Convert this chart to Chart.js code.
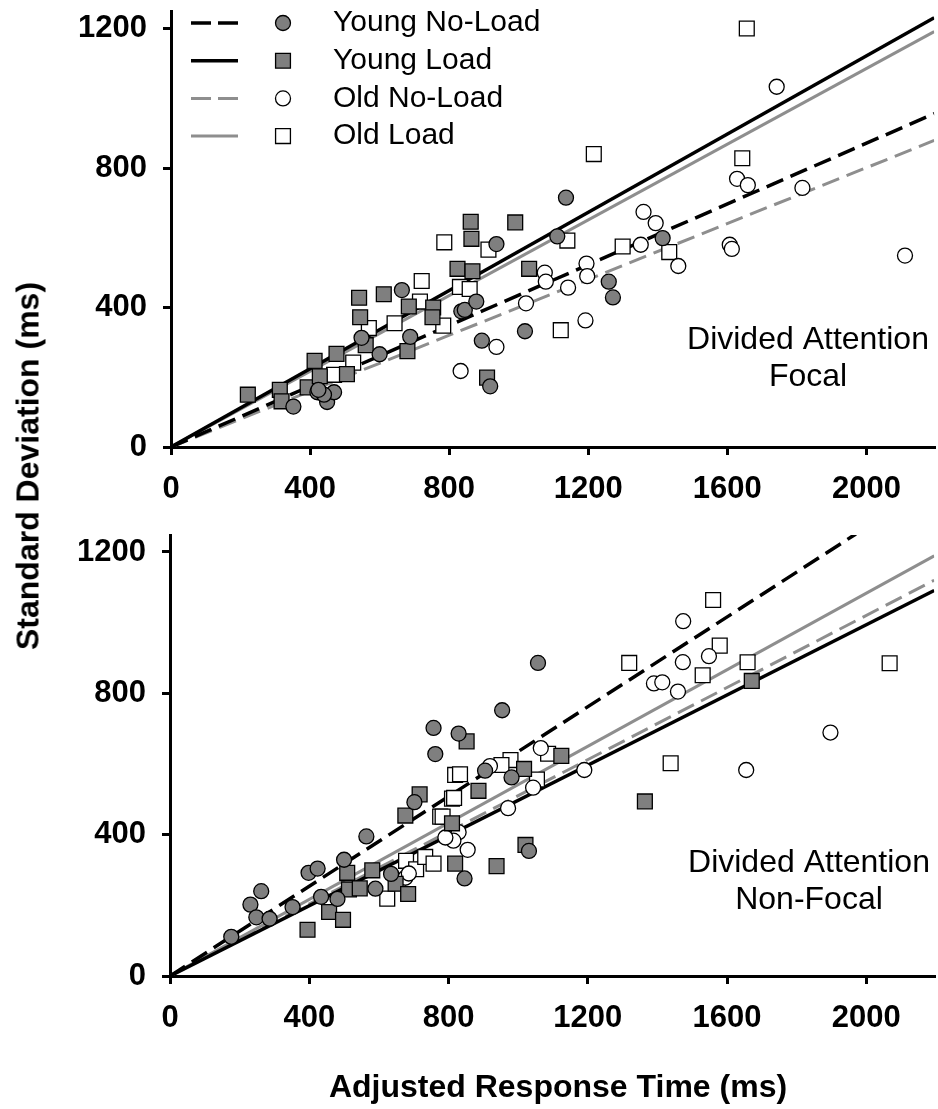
<!DOCTYPE html>
<html>
<head>
<meta charset="utf-8">
<title>SD vs adjusted RT</title>
<script src="https://cdn.jsdelivr.net/npm/chart.js@4.4.0/dist/chart.umd.min.js"></script>
<style>
    body { margin: 0; background: #fff; overflow: hidden; }
    #wrap { position: relative; width: 938px; height: 1109px; overflow: hidden; font-family: "Liberation Sans", Arial, sans-serif; color: #000; }
    #wrap canvas { position: absolute; left: 0; }
    #topChart { top: 0; }
    #bottomChart { top: 520px; }
    .axis-title { position: absolute; font-weight: bold; font-size: 32px; white-space: nowrap; }
    #yTitle { left: 28px; top: 466px; transform: translate(-50%, -50%) rotate(-90deg); }
    #xTitle { left: 558px; top: 1086px; transform: translate(-50%, -50%); }
</style>
</head>
<body>
<div id="wrap">
    <canvas id="topChart" width="946" height="520"></canvas>
    <canvas id="bottomChart" width="946" height="589"></canvas>
    <div class="axis-title" id="yTitle">Standard Deviation (ms)</div>
    <div class="axis-title" id="xTitle">Adjusted Response Time (ms)</div>
</div>
<script>
"use strict";

// ---- data ----
var seriesNames = ["Young No-Load", "Young Load", "Old No-Load", "Old Load"];
var xTicks = [0, 400, 800, 1200, 1600, 2000];
var yTicks = [0, 400, 800, 1200];

// Divided attention, focal: [adjusted RT, SD]
var focalYoungNoLoad = [[352,116],[421,157],[449,129],[469,157],[440,150],[424,164],[664,450],[688,316],[600,266],[548,313],
    [835,389],[845,393],[878,417],[936,582],[1136,715],[1111,604],[1259,474],[1271,429],[1414,599],[1018,332],[894,305],[918,174]];
var focalYoungLoad = [[221,150],[313,164],[318,131],[393,171],[413,247],[428,203],[476,267],[506,209],[541,428],[544,372],
    [560,292],[612,438],[684,403],[680,275],[754,400],[752,372],[824,511],[862,646],[864,597],[867,504],[990,644],[1030,511],[909,199]];
var focalOldNoLoad = [[1359,674],[1394,642],[1351,580],[1459,519],[1607,580],[1613,568],[1628,769],[1659,751],[1195,526],[1197,490],
    [1142,457],[1075,500],[1078,474],[1021,412],[1192,363],[936,287],[1742,1033],[1816,743],[2111,549],[833,218]];
var focalOldLoad = [[786,587],[721,476],[716,417],[643,355],[569,341],[524,242],[469,207],[783,348],[831,459],[859,453],
    [1216,840],[1140,592],[913,566],[1299,575],[1433,559],[1121,335],[1643,828],[1656,1200]];

// Divided attention, non-focal
var nonFocalYoungNoLoad = [[176,111],[231,202],[248,166],[262,240],[286,162],[352,195],[398,292],[424,304],[434,224],[481,218],
    [500,329],[564,395],[590,247],[635,289],[702,492],[757,702],[762,628],[829,686],[1057,886],[954,752],[905,581],[981,562],[1031,354],[846,276]];
var nonFocalYoungLoad = [[395,131],[457,181],[497,159],[509,292],[514,245],[545,248],[581,299],[648,261],[684,232],[676,454],
    [717,514],[819,318],[852,664],[886,524],[1017,586],[1124,623],[1364,494],[1671,835],[1021,371],[938,311],[810,432]];
var nonFocalOldNoLoad = [[1473,888],[1548,905],[1390,828],[1414,831],[1459,805],[1065,645],[1190,583],[1043,533],[971,475],[1655,583],
    [919,594],[829,407],[814,383],[791,392],[855,357],[1474,1004],[1897,689],[676,278],[686,290]];
var nonFocalOldLoad = [[624,219],[678,326],[707,302],[733,337],[757,318],[776,451],[819,569],[810,502],[1319,886],[1579,935],
    [1530,851],[1659,888],[1438,602],[1086,629],[978,611],[952,597],[1054,556],[833,571],[816,504],[783,451],[1560,1064],[2067,885]];

// regression line end points
var focalFitYoungNoLoad = [[0,0],[2195,956]];
var focalFitYoungLoad = [[0,0],[2195,1231]];
var focalFitOldNoLoad = [[0,0],[2195,879]];
var focalFitOldLoad = [[0,0],[2195,1191]];
var nonFocalFitYoungNoLoad = [[0,0],[1970,1251]];
var nonFocalFitYoungLoad = [[0,0],[2195,1091]];
var nonFocalFitOldNoLoad = [[0,0],[2195,1120]];
var nonFocalFitOldLoad = [[0,0],[2195,1189]];

// ---- styles ----
var FONT = "'Liberation Sans', Arial, sans-serif";
var GREY_FILL = "#7f7f7f";
var GREY_LINE = "#8e8e8e";
var seriesStyles = [
    { shape: "circle", fill: GREY_FILL, line: "#000", width: 3.5, dash: [18, 8] },
    { shape: "rect", fill: GREY_FILL, line: "#000", width: 3.5, dash: [] },
    { shape: "circle", fill: "#fff", line: GREY_LINE, width: 3, dash: [18, 8] },
    { shape: "rect", fill: "#fff", line: GREY_LINE, width: 3, dash: [] }
];

function toXY(pairs) {
    return pairs.map(function (p) { return { x: p[0], y: p[1] }; });
}

function markerRadius(shape) {
    return shape === "rect" ? 10.5 : 7.5;
}

function scatterSet(i, pairs) {
    var s = seriesStyles[i];
    return {
        type: "scatter",
        label: seriesNames[i],
        data: toXY(pairs),
        pointStyle: s.shape,
        pointRadius: markerRadius(s.shape),
        pointHoverRadius: markerRadius(s.shape),
        backgroundColor: s.fill,
        borderColor: "#000",
        borderWidth: 1.3,
        order: 1
    };
}

function fitSet(i, ends) {
    var s = seriesStyles[i];
    return {
        type: "line",
        label: seriesNames[i] + " fit",
        data: toXY(ends),
        borderColor: s.line,
        borderWidth: s.width,
        borderDash: s.dash,
        pointRadius: 0,
        fill: false,
        order: 2
    };
}

// Legend as in the figure: line sample, marker, label.
var figureLegend = {
    id: "figureLegend",
    afterDraw: function (chart, args, opts) {
        if (!opts.show) {
            return;
        }
        var ctx = chart.ctx;
        ctx.save();
        seriesNames.forEach(function (name, i) {
            var s = seriesStyles[i];
            var y = 23 + i * 37.7;
            ctx.strokeStyle = s.line;
            ctx.lineWidth = s.width;
            ctx.setLineDash(s.dash.length ? [20, 7] : []);
            ctx.beginPath();
            ctx.moveTo(191, y);
            ctx.lineTo(238, y);
            ctx.stroke();
            ctx.setLineDash([]);

            ctx.fillStyle = s.fill;
            ctx.strokeStyle = "#000";
            ctx.lineWidth = 1.3;
            Chart.helpers.drawPoint(ctx, { pointStyle: s.shape, radius: markerRadius(s.shape), borderWidth: 1.3, rotation: 0 }, 283, y);

            ctx.fillStyle = "#000";
            ctx.font = "30px " + FONT;
            ctx.textAlign = "left";
            ctx.textBaseline = "middle";
            ctx.fillText(name, 333, y);
        });
        ctx.restore();
    }
};

// Condition label inside each panel.
var panelLabel = {
    id: "panelLabel",
    afterDraw: function (chart, args, opts) {
        var ctx = chart.ctx;
        ctx.save();
        ctx.fillStyle = "#000";
        ctx.font = "32px " + FONT;
        ctx.textAlign = "center";
        ctx.textBaseline = "middle";
        (opts.lines || []).forEach(function (line, i) {
            ctx.fillText(line, opts.x, opts.y + i * 37);
        });
        ctx.restore();
    }
};

function makeScales(axisWidth, axisHeight) {
    return {
        x: {
            type: "linear",
            position: "bottom",
            min: 0,
            max: 2195,
            afterBuildTicks: function (scale) { scale.ticks = xTicks.map(function (v) { return { value: v }; }); },
            afterFit: function (scale) {
                scale.height = axisHeight;
                scale.paddingLeft = 0;
                scale.paddingRight = 0;
            },
            ticks: {
                color: "#000",
                font: { family: FONT, size: 31, weight: "bold" },
                padding: 16,
                maxRotation: 0,
                autoSkip: false,
                callback: function (v) { return String(v); }
            },
            grid: { drawOnChartArea: false, drawTicks: true, tickLength: 8, color: "#000", lineWidth: 3 },
            border: { color: "#000", width: 3 }
        },
        y: {
            type: "linear",
            position: "left",
            min: 0,
            max: 1248,
            afterBuildTicks: function (scale) { scale.ticks = yTicks.map(function (v) { return { value: v }; }); },
            afterFit: function (scale) {
                scale.width = axisWidth;
                scale.paddingTop = 0;
                scale.paddingBottom = 0;
            },
            ticks: {
                color: "#000",
                font: { family: FONT, size: 31, weight: "bold" },
                padding: 16,
                autoSkip: false,
                callback: function (v) { return String(v); }
            },
            grid: { drawOnChartArea: false, drawTicks: true, tickLength: 8, color: "#000", lineWidth: 3 },
            border: { color: "#000", width: 3 }
        }
    };
}

function makePanel(canvasId, sets, fits, layout, label, showLegend) {
    var datasets = [];
    sets.forEach(function (pairs, i) { datasets.push(scatterSet(i, pairs)); });
    fits.forEach(function (ends, i) { datasets.push(fitSet(i, ends)); });

    return new Chart(document.getElementById(canvasId), {
        type: "scatter",
        data: { datasets: datasets },
        plugins: [figureLegend, panelLabel],
        options: {
            responsive: false,
            maintainAspectRatio: false,
            animation: false,
            devicePixelRatio: 1,
            layout: { padding: { top: layout.top, left: 0, right: 0, bottom: 0 } },
            scales: makeScales(layout.axisWidth, layout.axisHeight),
            plugins: {
                legend: { display: false },
                tooltip: { enabled: false },
                figureLegend: { show: showLegend },
                panelLabel: label
            }
        }
    });
}

makePanel("topChart",
    [focalYoungNoLoad, focalYoungLoad, focalOldNoLoad, focalOldLoad],
    [focalFitYoungNoLoad, focalFitYoungLoad, focalFitOldNoLoad, focalFitOldLoad],
    { top: 6, axisWidth: 171, axisHeight: 73 },
    { lines: ["Divided Attention", "Focal"], x: 808, y: 340 },
    true);

makePanel("bottomChart",
    [nonFocalYoungNoLoad, nonFocalYoungLoad, nonFocalOldNoLoad, nonFocalOldLoad],
    [nonFocalFitYoungNoLoad, nonFocalFitYoungLoad, nonFocalFitOldNoLoad, nonFocalFitOldLoad],
    { top: 15, axisWidth: 170, axisHeight: 133 },
    { lines: ["Divided Attention", "Non-Focal"], x: 809, y: 343 },
    false);
</script>
</body>
</html>
